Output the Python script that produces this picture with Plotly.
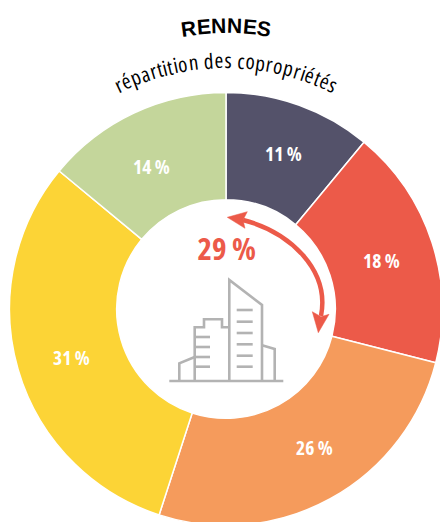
import math
import plotly.graph_objects as go

categories = ["A", "B", "C", "D", "E"]
values = [11, 18, 26, 31, 14]
colors = ["#54526a", "#ec5a49", "#f59b5c", "#fcd436", "#c4d69b"]
label_positions = [(283, 153), (381, 260), (314, 447), (71, 357), (151, 166)]
center_label = "29 %"
title_text = "RENNES"
subtitle_text = "répartition des copropriétés"

VW, VH = 440, 522
W, H = 450, 532  # canvas slightly larger than the window: the ring is cropped by the page edge
CX, CY, R = 226, 309, 216.5
RED = "#ec5a49"
GREY = "#b3b3b3"
NARROW = "Open Sans, Liberation Sans, sans-serif"

fig = go.Figure()
fig.add_trace(go.Pie(
    labels=categories, values=values, sort=False, direction="clockwise", rotation=0,
    hole=0.505, marker=dict(colors=colors, line=dict(color="white", width=1.5)),
    textinfo="none",
    domain=dict(x=[(CX - R) / W, (CX + R) / W], y=[(H - CY - R) / H, (H - CY + R) / H]),
    showlegend=False, hoverinfo="skip",
))
fig.add_trace(go.Scatter(x=[0, W], y=[0, H], mode="markers", marker=dict(opacity=0), showlegend=False, hoverinfo="skip"))

TITLE_WIDTHS = {"R": .722, "E": .667, "N": .722, "S": .667}
SUB_WIDTHS = {"r": .41, "é": .56, "p": .61, "a": .55, "t": .35, "i": .25, "o": .6, "n": .61,
              " ": .26, "d": .6, "e": .56, "s": .48, "c": .47}

annotations = []
def arc_text(text, widths, radius, size, family, scale=1.0, weight="normal"):
    adv = [widths[c] * size * scale for c in text]
    total = sum(adv)
    pos = -total / 2
    for c, a in zip(text, adv):
        mid = pos + a / 2
        pos += a
        if c == " ":
            continue
        th = mid / radius
        r = radius + size * 0.3
        annotations.append(dict(
            x=CX + r * math.sin(th), y=308 - r * math.cos(th), xref="x", yref="y",
            text=c, showarrow=False, textangle=math.degrees(th),
            xanchor="center", yanchor="middle",
            font=dict(family=family, size=size, color="#000000", weight=weight),
        ))

arc_text(title_text, TITLE_WIDTHS, 276, 21, "Liberation Sans", 1.02, "bold")
arc_text(subtitle_text, SUB_WIDTHS, 241.5, 21, NARROW, 0.822, 500)
for v, (x, y) in zip(values, label_positions):
    annotations.append(dict(x=x, y=y, xref="x", yref="y", text=f"{v} %", showarrow=False,
                            font=dict(family=NARROW, size=19.5, color="white", weight="bold")))
annotations.append(dict(x=226.5, y=248, xref="x", yref="y", text=center_label, showarrow=False,
                        font=dict(family=NARROW, size=31, color=RED, weight="bold")))

shapes = []
def polyline(pts, width=2.6):
    p = "M " + " L ".join(f"{x},{y}" for x, y in pts)
    shapes.append(dict(type="path", path=p, xref="x", yref="y",
                       line=dict(color=GREY, width=width), layer="above"))

polyline([(169.3, 381), (283.3, 381)])
polyline([(229.3, 381), (229.3, 280), (262, 305), (262, 381)])
for y in [310, 321.7, 333, 344.3, 355.7, 366.7]:
    polyline([(236.7, y), (252.7, y)])
polyline([(194.7, 381), (194.7, 327.3), (204, 327.3), (204, 319.3), (222, 319.3), (222, 327.3), (229.3, 327.3)])
for y in [337, 347, 357, 366.7]:
    polyline([(194.7, y), (210, y)])
polyline([(179.3, 381), (179.3, 363.3), (194.7, 357)])
polyline([(262, 345.3), (274.7, 349), (274.7, 381)])

shapes.append(dict(type="path", path="M 243,220 C 290,232 330,270 321,316", xref="x", yref="y",
                   line=dict(color=RED, width=4.5)))
shapes.append(dict(type="path", path="M 227.3,217.3 L 247.3,211.7 L 243,220 L 245,228.3 Z", xref="x", yref="y",
                   fillcolor=RED, line=dict(color=RED, width=0.5)))
shapes.append(dict(type="path", path="M 318.3,332.7 L 312.3,311.7 L 321,316.7 L 329,314.3 Z", xref="x", yref="y",
                   fillcolor=RED, line=dict(color=RED, width=0.5)))

hidden = dict(visible=False, fixedrange=True)
fig.update_layout(
    width=W, height=H, margin=dict(l=0, r=0, t=0, b=0, pad=0),
    paper_bgcolor="white", plot_bgcolor="rgba(0,0,0,0)",
    xaxis=dict(range=[0, W], **hidden),
    yaxis=dict(range=[H, 0], **hidden),
    annotations=annotations, shapes=shapes,
)
post = """
document.body.style.margin = '0';
document.documentElement.style.overflow = 'hidden';
document.body.style.overflow = 'hidden';
document.querySelectorAll('text').forEach(function (t) {
  if (t.textContent.indexOf('%') >= 0) { t.style.fontStretch = '80%'; }
  else if (t.textContent.length === 1) { t.style.fontStretch = '82%'; }
});
"""
fig.write_html("out.html", config=dict(displayModeBar=False), post_script=post)
